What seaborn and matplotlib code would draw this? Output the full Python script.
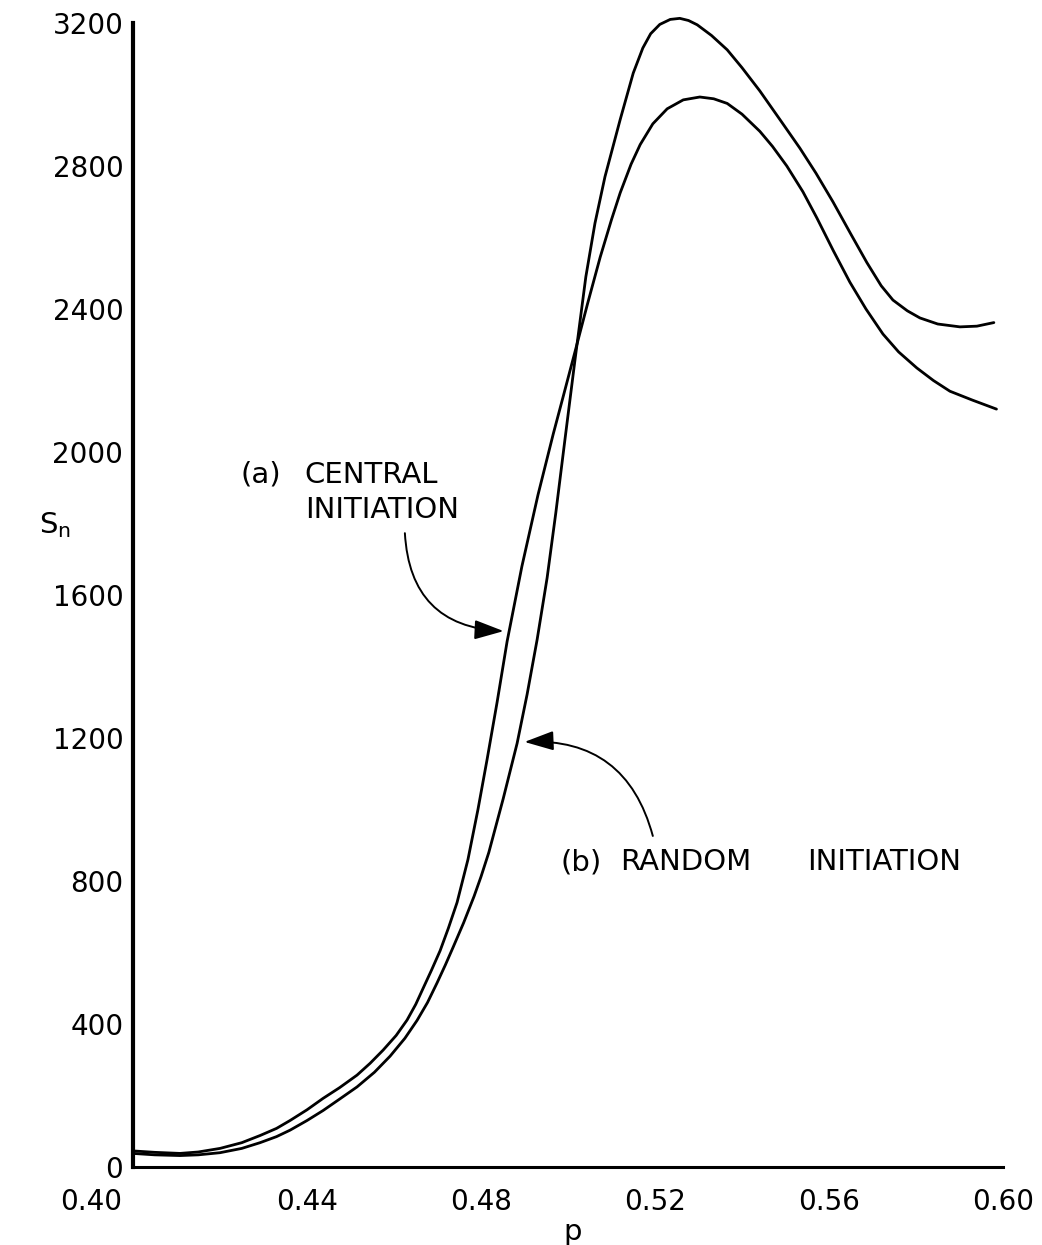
import matplotlib
matplotlib.use("Agg")
import matplotlib.pyplot as plt
import seaborn as sns
from matplotlib.patches import FancyArrowPatch
from matplotlib.transforms import ScaledTranslation

# Mean cluster size S_n versus site probability p, curve (a): central initiation
p_central = [0.4000, 0.4050, 0.4108, 0.4150, 0.4200, 0.4250, 0.4292, 0.4330,
             0.4361, 0.4400, 0.4437, 0.4475, 0.4515, 0.4545, 0.4575, 0.4605,
             0.4630, 0.4650, 0.4667, 0.4686, 0.4706, 0.4725, 0.4745, 0.4770,
             0.4793, 0.4814, 0.4837, 0.4860, 0.4894, 0.4931, 0.4966, 0.4990,
             0.5016, 0.5045, 0.5074, 0.5100, 0.5120, 0.5145, 0.5166, 0.5195,
             0.5228, 0.5265, 0.5303, 0.5335, 0.5366, 0.5400, 0.5441, 0.5470,
             0.5503, 0.5540, 0.5572, 0.5610, 0.5648, 0.5685, 0.5724, 0.5760,
             0.5802, 0.5840, 0.5878, 0.5930, 0.5985]
s_central = [45, 41, 38, 42, 52, 68, 88, 108,
             130, 160, 192, 222, 257, 290, 327, 368,
             411, 455, 500, 550, 605, 668, 740, 860,
             1000, 1140, 1300, 1470, 1680, 1880, 2050, 2160,
             2280, 2415, 2545, 2650, 2725, 2805, 2860, 2918,
             2960, 2985, 2993, 2988, 2975, 2945, 2897, 2855,
             2800, 2728, 2655, 2563, 2475, 2400, 2330, 2280,
             2235, 2200, 2170, 2145, 2120]

# curve (b): random initiation
p_random = [0.4000, 0.4050, 0.4108, 0.4150, 0.4200, 0.4250, 0.4292, 0.4330,
            0.4361, 0.4400, 0.4437, 0.4475, 0.4515, 0.4555, 0.4591, 0.4625,
            0.4653, 0.4677, 0.4699, 0.4718, 0.4736, 0.4760, 0.4784, 0.4800,
            0.4818, 0.4851, 0.4883, 0.4906, 0.4929, 0.4952, 0.4972, 0.4993,
            0.5016, 0.5041, 0.5062, 0.5085, 0.5120, 0.5150, 0.5172, 0.5190,
            0.5211, 0.5235, 0.5257, 0.5277, 0.5297, 0.5330, 0.5366, 0.5400,
            0.5441, 0.5490, 0.5533, 0.5570, 0.5609, 0.5650, 0.5687, 0.5720,
            0.5747, 0.5780, 0.5809, 0.5850, 0.5901, 0.5940, 0.5979]
s_random = [38, 34, 32, 34, 40, 52, 68, 85,
            103, 130, 158, 190, 224, 265, 310, 360,
            410, 460, 515, 565, 615, 683, 757, 812,
            880, 1030, 1185, 1322, 1475, 1648, 1830, 2035,
            2257, 2490, 2640, 2770, 2930, 3060, 3130, 3170,
            3196, 3210, 3213, 3207, 3195, 3165, 3125, 3075,
            3010, 2925, 2850, 2780, 2700, 2610, 2530, 2465,
            2425, 2395, 2375, 2358, 2350, 2352, 2362]

x_major = [0.40, 0.44, 0.48, 0.52, 0.56, 0.60]
x_minor = [0.42, 0.46, 0.50, 0.54, 0.58]
y_major = [0, 400, 800, 1200, 1600, 2000, 2400, 2800, 3200]

sns.set_style("white")
plt.rcParams["font.family"] = ["DejaVu Sans"]
plt.rcParams.update({"text.color": "black", "axes.labelcolor": "black",
                     "xtick.color": "black", "ytick.color": "black"})

fig = plt.figure(figsize=(10.42, 12.45), dpi=100)
ax = fig.add_axes([133 / 1042, (1245 - 1167) / 1245, (1003 - 133) / 1042, (1167 - 23) / 1245])

for px, sy in ((p_central, s_central), (p_random, s_random)):
    sns.lineplot(x=px, y=sy, sort=False, estimator=None, color="black",
                 linewidth=2.0, ax=ax, clip_on=False)
for ln in ax.lines:
    ln.set_solid_joinstyle("round")
    ln.set_solid_capstyle("round")

ax.set_xlim(0.40, 0.60)
ax.set_ylim(0, 3200)

for side in ("top", "right"):
    ax.spines[side].set_visible(False)
ax.spines["left"].set_linewidth(3.0)
ax.spines["bottom"].set_linewidth(2.2)
for side in ("left", "bottom"):
    ax.spines[side].set_color("black")

ax.set_xticks(x_major)
ax.set_xticks(x_minor, minor=True)
ax.set_xticklabels([f"{v:.2f}" for v in x_major])
ax.set_yticks(y_major)
ax.set_yticklabels([str(v) for v in y_major])

ax.tick_params(axis="y", which="major", direction="in", length=17, width=1.8,
               pad=7, labelsize=20, color="black", labelcolor="black")
ax.tick_params(axis="x", which="major", direction="in", length=16, width=1.6,
               pad=15, labelsize=20, color="black", labelcolor="black")
ax.tick_params(axis="x", which="minor", direction="in", length=9, width=1.6,
               color="black")

# shift the first p label left, clear of the S_n = 0 label
first = ax.get_xticklabels()[0]
first.set_transform(first.get_transform() + ScaledTranslation(-0.42, 0, fig.dpi_scale_trans))

ax.set_ylabel(r"S$_\mathregular{n}$", rotation=0, fontsize=21, ha="center", va="center")
ax.yaxis.set_label_coords(-0.09, 0.561)
ax.set_xlabel("p", fontsize=21, va="center")
ax.xaxis.set_label_coords(0.505, -0.057)

# curve labels
txt = dict(fontsize=21, va="center", ha="left", color="black")
ax.text(0.4246, 1936, "(a)", **txt)
ax.text(0.4395, 1936, "CENTRAL", **txt)
ax.text(0.4395, 1838, "INITIATION", **txt)
ax.text(0.4982, 853, "(b)", **txt)
ax.text(0.5120, 853, "RANDOM", **txt)
ax.text(0.5549, 853, "INITIATION", **txt)

arrow_a = FancyArrowPatch((0.4625, 1773), (0.4852, 1499),
                          connectionstyle="arc3,rad=0.45",
                          arrowstyle="-|>,head_length=0.9,head_width=0.3",
                          mutation_scale=20, color="black", linewidth=1.4,
                          shrinkA=0, shrinkB=0)
arrow_b = FancyArrowPatch((0.5195, 926), (0.4900, 1189),
                          connectionstyle="arc3,rad=0.4",
                          arrowstyle="-|>,head_length=0.9,head_width=0.3",
                          mutation_scale=20, color="black", linewidth=1.4,
                          shrinkA=0, shrinkB=0)
ax.add_patch(arrow_a)
ax.add_patch(arrow_b)

fig.savefig("out.png", dpi=100, facecolor="white")
